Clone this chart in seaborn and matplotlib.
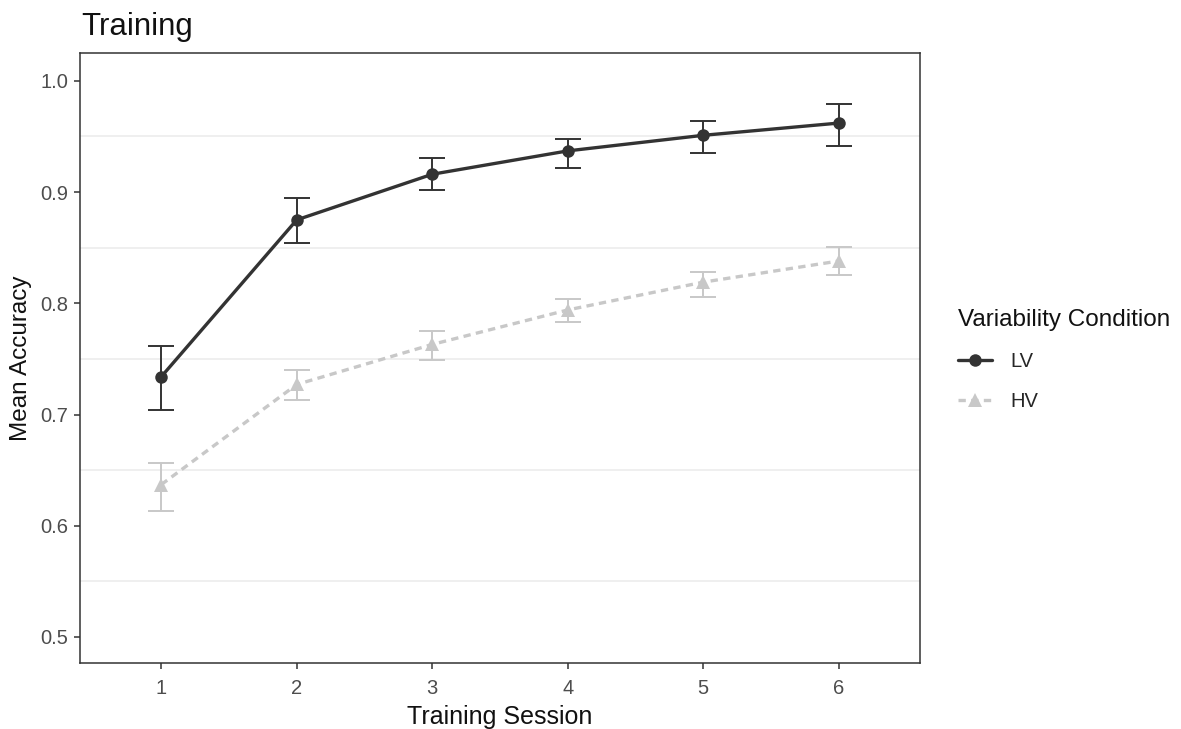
import numpy as np
import pandas as pd
import matplotlib
matplotlib.use("Agg")
import matplotlib.pyplot as plt
import seaborn as sns

sessions = [1, 2, 3, 4, 5, 6]
lv_mean = [0.734, 0.875, 0.916, 0.937, 0.951, 0.962]
lv_low = [0.704, 0.854, 0.902, 0.922, 0.935, 0.941]
lv_high = [0.762, 0.895, 0.931, 0.948, 0.964, 0.979]
hv_mean = [0.637, 0.727, 0.763, 0.794, 0.819, 0.838]
hv_low = [0.613, 0.713, 0.749, 0.783, 0.806, 0.825]
hv_high = [0.656, 0.740, 0.775, 0.804, 0.828, 0.851]
conditions = ["LV", "HV"]
y_ticks = [0.5, 0.6, 0.7, 0.8, 0.9, 1.0]
y_minor = [0.55, 0.65, 0.75, 0.85, 0.95]

sns.set_theme(style="white")
plt.rcParams["font.family"] = ["Liberation Sans", "DejaVu Sans"]

df = pd.DataFrame({
    "Training Session": sessions * 2,
    "Mean Accuracy": lv_mean + hv_mean,
    "low": lv_low + hv_low,
    "high": lv_high + hv_high,
    "Variability Condition": ["LV"] * 6 + ["HV"] * 6,
})

palette = {"LV": "#333333", "HV": "#c8c8c8"}

fig = plt.figure(figsize=(11.81, 7.29), dpi=100)
ax = fig.add_axes([80 / 1181, 1 - 663 / 729, (920 - 80) / 1181, (663 - 53) / 729])

for y in y_minor:
    ax.axhline(y, color="#ebebeb", lw=1.1, zorder=0)

for cond in conditions:
    sub = df[df["Variability Condition"] == cond]
    m = sub["Mean Accuracy"].to_numpy()
    err = np.vstack([m - sub["low"].to_numpy(), sub["high"].to_numpy() - m])
    ax.errorbar(sub["Training Session"], m, yerr=err, fmt="none",
                ecolor=palette[cond], elinewidth=1.4, capsize=9.7, capthick=1.4, zorder=2)

sns.lineplot(data=df, x="Training Session", y="Mean Accuracy",
             hue="Variability Condition", style="Variability Condition",
             hue_order=conditions, style_order=conditions,
             palette=palette, markers={"LV": "o", "HV": "^"},
             dashes={"LV": "", "HV": (2.2, 1.6)}, markersize=9,
             markeredgewidth=0, linewidth=2.4, errorbar=None, ax=ax, zorder=3)

for ln in ax.lines:
    if ln.get_marker() == "^":
        ln.set_markersize(10.5)

ax.set_xlim(0.4, 6.6)
ax.set_ylim(0.4766, 1.025)
ax.set_xticks(sessions)
ax.set_xticklabels([str(s) for s in sessions])
ax.set_yticks(y_ticks)
ax.set_yticklabels([f"{v:.1f}" for v in y_ticks])
ax.tick_params(axis="both", which="major", direction="out", length=4.2, width=1.1,
               color="#333333", labelcolor="#4d4d4d", labelsize=14.5,
               left=True, bottom=True)
ax.tick_params(axis="x", pad=7.5)
ax.tick_params(axis="y", pad=4.5)
for sp in ax.spines.values():
    sp.set_color("#333333")
    sp.set_linewidth(1.1)

ax.set_xlabel("Training Session", fontsize=18, color="#111111")
ax.set_ylabel("Mean Accuracy", fontsize=17.5, color="#111111")
ax.xaxis.set_label_coords(0.5, -(705 - 663) / 610)
ax.yaxis.set_label_coords((32 - 80) / 840, 0.5)
fig.text(81 / 1181, 1 - 35 / 729, "Training", fontsize=22.5, color="#111111",
         ha="left", va="baseline")

handles, labels = ax.get_legend_handles_labels()
for h in handles:
    if h.get_marker() == "^":
        h.set_markersize(10)
leg = ax.legend(handles=handles, labels=labels, title="Variability Condition",
                loc="center left", bbox_to_anchor=(1.033, 0.497), frameon=False,
                fontsize=14.5, title_fontsize=17.5, handlelength=1.7,
                handletextpad=0.9, labelspacing=1.05, alignment="left",
                borderpad=0.0)
leg.get_title().set_color("#111111")

fig.savefig("out.png", dpi=100)
